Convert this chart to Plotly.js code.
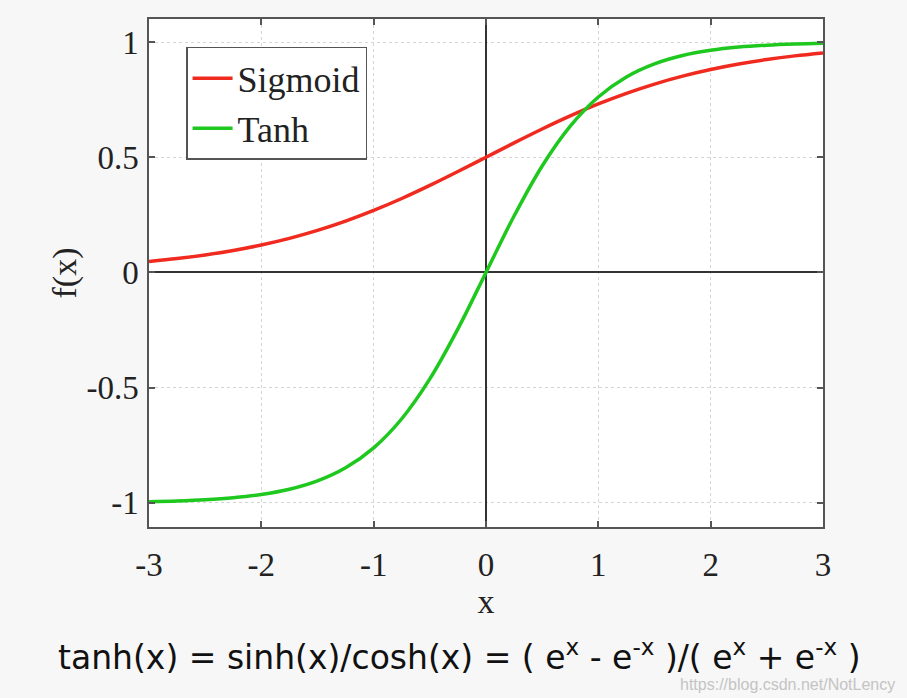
<!DOCTYPE html>
<html><head><meta charset="utf-8">
<script src="https://cdn.plot.ly/plotly-3.0.1.min.js"></script>
<style>html,body{margin:0;padding:0;background:#f7f7f7;}</style>
</head><body>
<div id="chart" style="width:907px;height:698px;"></div>
<script>
const xs = [-3,-2.75,-2.5,-2.25,-2,-1.75,-1.5,-1.25,-1,-0.75,-0.5,-0.25,0,0.25,0.5,0.75,1,1.25,1.5,1.75,2,2.25,2.5,2.75,3];
const sigmoidVals = [0.0474,0.0601,0.0759,0.0953,0.1192,0.1480,0.1824,0.2227,0.2689,0.3208,0.3775,0.4378,0.5,0.5622,0.6225,0.6792,0.7311,0.7773,0.8176,0.8520,0.8808,0.9047,0.9241,0.9399,0.9526];
const tanhVals = [-0.9951,-0.9918,-0.9866,-0.9780,-0.9640,-0.9414,-0.9051,-0.8483,-0.7616,-0.6351,-0.4621,-0.2449,0,0.2449,0.4621,0.6351,0.7616,0.8483,0.9051,0.9414,0.9640,0.9780,0.9866,0.9918,0.9951];
const xTicks = [-3,-2,-1,0,1,2,3];
const xTickText = ['-3','-2','-1','0','1','2','3'];
const yTicks = [-1,-0.5,0,0.5,1];
const yTickText = ['-1','-0.5','0','0.5','1'];
const seriesNames = ['Sigmoid','Tanh'];
const formula = 'tanh(x) = sinh(x)/cosh(x) = ( e<sup>x</sup> - e<sup>-x</sup> )/( e<sup>x</sup> + e<sup>-x</sup> )';
const watermark = 'https://blog.csdn.net/NotLency';

const serif = 'Liberation Serif, Times New Roman, serif';
const data = [
  {x: xs, y: sigmoidVals, name: seriesNames[0], mode: 'lines', line: {color: '#f02a1e', width: 3.5, shape: 'spline'}},
  {x: xs, y: tanhVals, name: seriesNames[1], mode: 'lines', line: {color: '#1ec81e', width: 3.5, shape: 'spline'}}
];
const axisCommon = {
  showline: true, linecolor: '#555', linewidth: 1.5, mirror: 'ticks',
  ticks: 'inside', ticklen: 6, tickcolor: '#555', tickwidth: 1.5,
  showgrid: true, gridcolor: '#d4d4d4', griddash: 'dot', gridwidth: 1,
  zeroline: true, zerolinecolor: '#333', zerolinewidth: 2.2,
  tickfont: {family: serif, size: 33, color: '#222'}
};
const layout = {
  width: 907, height: 698,
  margin: {l: 149, r: 84, t: 19, b: 171},
  paper_bgcolor: '#f7f7f7', plot_bgcolor: '#ffffff',
  showlegend: true,
  legend: {x: 0.055, y: 0.945, xanchor: 'left', yanchor: 'top', bgcolor: '#ffffff', bordercolor: '#555', borderwidth: 1.5,
           font: {family: serif, size: 36, color: '#222'}, itemwidth: 40, tracegroupgap: 0},
  xaxis: Object.assign({}, axisCommon, {range: [-3, 3], tickvals: xTicks, ticktext: xTickText, ticklabelstandoff: 8,
           title: {text: 'x', font: {family: serif, size: 34, color: '#222'}, standoff: 2}}),
  yaxis: Object.assign({}, axisCommon, {range: [-1.105, 1.1], tickvals: yTicks, ticktext: yTickText, ticklabelstandoff: 2,
           title: {text: 'f(x)', font: {family: serif, size: 34, color: '#222'}, standoff: 0}}),
  annotations: [
    {xref: 'paper', yref: 'paper', x: 0.46, y: -0.252, xanchor: 'center', yanchor: 'middle', showarrow: false,
     text: formula, font: {family: 'DejaVu Sans, sans-serif', size: 33, color: '#111'}},
    {xref: 'paper', yref: 'paper', x: 1.11, y: -0.31, xanchor: 'right', yanchor: 'middle', showarrow: false,
     text: watermark, font: {family: 'Liberation Sans, Arial, sans-serif', size: 16, color: '#c4c4c4'}}
  ]
};
Plotly.newPlot('chart', data, layout, {displayModeBar: false});
</script>
</body></html>
